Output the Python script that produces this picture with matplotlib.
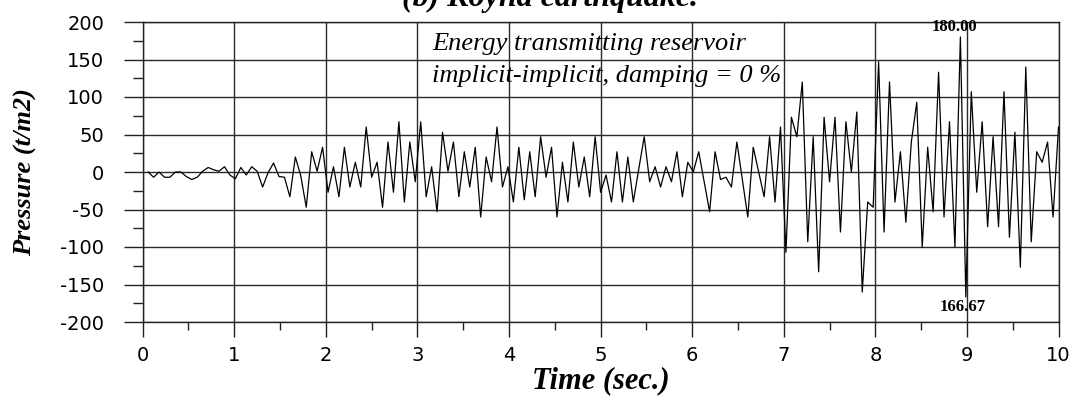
import numpy as np
import matplotlib
matplotlib.use("Agg")
import matplotlib.pyplot as plt
from matplotlib.ticker import MultipleLocator

plt.rcParams["axes.unicode_minus"] = False

# Hydrodynamic pressure history at the dam face (t/m2), uniform time step
pressure = [
    0, -7, 0, -7, -7, 0, 0, -6, -10, -7, 1, 6, 3, 1, 7, -4, -9, 6, -4, 7,
    1, -20, -1, 12, -6, -7, -33, 20, -5, -47, 27, 1, 33, -27, 7, -33, 33, -20, 13, -20,
    60, -7, 13, -47, 40, -27, 67, -40, 40, -13, 67, -33, 7, -53, 53, 1, 40, -33, 27, -20,
    33, -60, 20, -13, 60, -20, 7, -40, 33, -37, 27, -33, 47, -7, 33, -60, 13, -40, 40, -20,
    20, -33, 47, -27, -4, -40, 27, -40, 20, -40, 4, 47, -13, 7, -20, 7, -13, 27, -33, 13,
    0, 27, -13, -53, 27, -10, -7, -20, 40, -10, -60, 33, 0, -33, 47, -40, 60, -107, 73, 47,
    120, -93, 47, -133, 73, -13, 73, -80, 67, 0, 80, -160, -40, -47, 147, -80, 120, -40, 27, -67,
    40, 93, -100, 33, -53, 133, -60, 67, -100, 180.00, -166.67, 107, -27, 67, -73, 47, -73, 107, -87, 53,
    -127, 140, -93, 27, 13, 40, -60, 60,
]
duration = 10.0                      # seconds
dt = duration / len(pressure)
time = dt * np.arange(1, len(pressure) + 1)

x_ticks = list(range(0, 11))
y_ticks = list(range(-200, 201, 50))

title_text = "(b) Koyna earthquake."
note_lines = ["Energy transmitting reservoir", "implicit-implicit, damping = 0 %"]

serif = ["Liberation Serif", "DejaVu Serif"]
sans = ["DejaVu Sans"]

W, H = 1070, 403
x0, x1, y_top, y_bot = 142.7, 1058.5, 22, 322

fig = plt.figure(figsize=(W / 100, H / 100), dpi=100)
ax = fig.add_axes([x0 / W, 1 - y_bot / H, (x1 - x0) / W, (y_bot - y_top) / H])

ax.plot(time, pressure, color="black", lw=0.9, zorder=3, clip_on=True)

ax.set_xlim(0, 10)
ax.set_ylim(-200, 200)
ax.set_xticks(x_ticks)
ax.set_yticks(y_ticks)
ax.xaxis.set_minor_locator(MultipleLocator(0.5))
ax.yaxis.set_minor_locator(MultipleLocator(25))
ax.grid(True, which="major", color="#2a2a2a", lw=1.0, zorder=1)

for s in ax.spines.values():
    s.set_color("#222222")
    s.set_linewidth(1.0)

ax.tick_params(axis="y", which="major", direction="out", length=13.7, width=1.0,
               pad=14, labelsize=14, colors="#222222", labelcolor="black")
ax.tick_params(axis="y", which="minor", direction="out", length=7.2, width=1.0, colors="#222222")
ax.tick_params(axis="x", which="major", direction="out", length=11, width=1.0,
               pad=6, labelsize=14, colors="#222222", labelcolor="black")
ax.tick_params(axis="x", which="minor", direction="out", length=6, width=1.0, colors="#222222")
for lab in ax.get_xticklabels() + ax.get_yticklabels():
    lab.set_family(sans)

ax.set_xlabel("Time (sec.)", family=serif, fontsize=22, fontweight="bold",
              fontstyle="italic", labelpad=1)
ax.set_ylabel("Pressure (t/m2)", family=serif, fontsize=19, fontweight="bold",
              fontstyle="italic")
ax.yaxis.set_label_coords(-(x0 - 37) / (x1 - x0), 0.5)

# Title sits partly above the canvas edge
fig.text(550 / W, 1 - 6 / H, title_text, family=serif, fontsize=23, fontweight="bold",
         fontstyle="italic", ha="center", va="baseline")

ax.text(3.16, 163, note_lines[0], family=serif, fontsize=19, fontstyle="italic",
        ha="left", va="baseline", zorder=4)
ax.text(3.16, 120, note_lines[1], family=serif, fontsize=19, fontstyle="italic",
        ha="left", va="baseline", zorder=4)

# Extreme values
i_max = int(np.argmax(pressure))
i_min = int(np.argmin(pressure))
ax.annotate(f"{abs(pressure[i_max]):.2f}", xy=(time[i_max], pressure[i_max]),
            xytext=(-4, 1.5), textcoords="offset points", ha="center", va="bottom",
            family=serif, fontsize=12, fontweight="bold", zorder=5)
ax.annotate(f"{abs(pressure[i_min]):.2f}", xy=(time[i_min], pressure[i_min]),
            xytext=(-2, -1.5), textcoords="offset points", ha="center", va="top",
            family=serif, fontsize=12, fontweight="bold", zorder=5)

fig.savefig("out.png", dpi=100)
